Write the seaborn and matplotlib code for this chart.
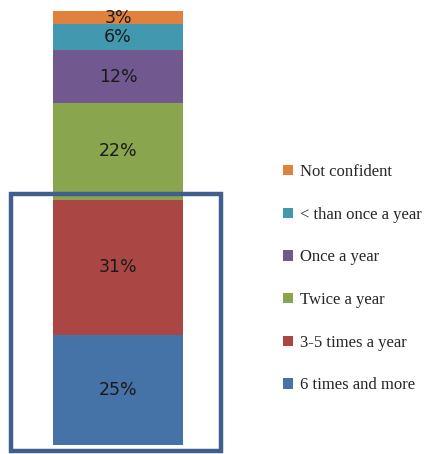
import matplotlib
matplotlib.use("Agg")
import matplotlib.pyplot as plt
from matplotlib.patches import Rectangle
import numpy as np
import pandas as pd
import seaborn as sns

# Share of respondents by how often they perform the check (bottom to top)
categories = ["6 times and more", "3-5 times a year", "Twice a year",
              "Once a year", "< than once a year", "Not confident"]
shares = [25, 31, 22, 12, 6, 3]
colors = ["#4572A7", "#AA4643", "#89A54E", "#71588F", "#4198AF", "#E0823D"]

sns.set_theme(style="white")
plt.rcParams["font.family"] = ["DejaVu Sans"]

fig = plt.figure(figsize=(4.25, 4.54), dpi=100)
ax = fig.add_axes([53 / 425, 9 / 454, 130 / 425, 434 / 454])

tops = np.cumsum(shares)
df = pd.DataFrame({"group": ["all"] * len(shares), "top": tops,
                   "share": shares, "cat": categories})

# Draw cumulative bars from the tallest down so each segment shows its slice
for i in range(len(shares) - 1, -1, -1):
    sns.barplot(data=df.iloc[[i]], x="group", y="top", color=colors[i],
                width=1.0, saturation=1, ax=ax, errorbar=None, linewidth=0)

for top, share in zip(tops, shares):
    ax.text(0, top - share / 2, f"{share}%", ha="center", va="center",
            fontsize=12.5, color="#1a1a1a",
            family=["DejaVu Sans Condensed", "DejaVu Sans"])

ax.set_xlim(-0.5, 0.5)
ax.set_ylim(0, tops[-1])
ax.axis("off")

# Highlight frame around the two most frequent groups
fig.patches.append(Rectangle((11 / 425, 3 / 454), 210 / 425, 257 / 454,
                             transform=fig.transFigure, fill=False,
                             edgecolor="#3F5F8C", linewidth=3.2))

handles = [Rectangle((0, 0), 1, 1, facecolor=c, edgecolor="none") for c in colors]
leg = fig.legend(handles[::-1], categories[::-1], loc="upper left",
                 bbox_to_anchor=(268 / 425, 1 - 149 / 454), frameon=False,
                 handlelength=0.6, handleheight=0.6, handletextpad=0.45,
                 labelspacing=1.6,
                 prop={"family": "Liberation Serif", "size": 12})

fig.savefig("out.png", dpi=100, facecolor="white")
